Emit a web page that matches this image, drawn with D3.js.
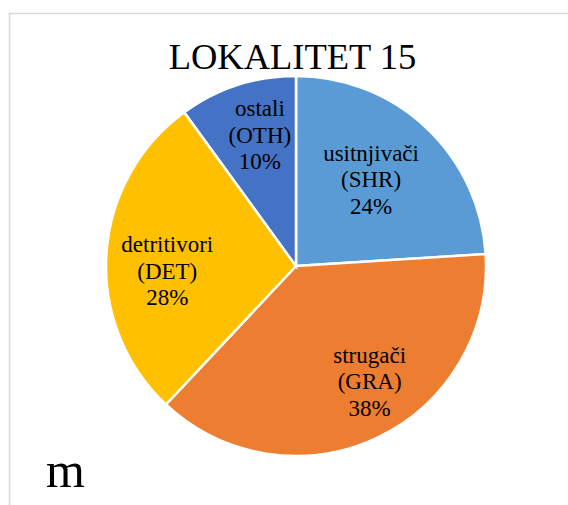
<!DOCTYPE html>
<html>
<head>
<meta charset="utf-8">
<script src="https://cdn.jsdelivr.net/npm/d3@7"></script>
<style>
  body { margin: 0; background: #fff; }
</style>
</head>
<body>
<script>
// data
const names = ['usitnjivači', 'strugači', 'detritivori', 'ostali'];
const codes = ['SHR', 'GRA', 'DET', 'OTH'];
const shares = [24, 38, 28, 10];
const colours = ['#5B9BD5', '#ED7D31', '#FFC000', '#4472C4'];

const width = 568;
const height = 505;
const cx = 296, cy = 266, radius = 190;
const serif = "'Times New Roman', 'Liberation Serif', Times, 'DejaVu Serif', serif";

const data = codes.map((c, i) => ({code: c, name: names[i], value: shares[i], colour: colours[i]}));

//svg
const svg = d3.select('body').append('svg').attr('width', width).attr('height', height)
  .style('font-family', serif);

// chart frame (only top and left edge are visible)
svg.append('rect')
  .attr('x', 9.5).attr('y', 13.5)
  .attr('width', 700).attr('height', 700)
  .attr('fill', 'none')
  .attr('stroke', '#d9d9d9')
  .attr('stroke-width', 1.5);

svg.append('text')
  .attr('x', 292.5).attr('y', 69)
  .attr('text-anchor', 'middle')
  .attr('font-family', serif)
  .attr('font-size', 36.5)
  .text('LOKALITET 15');

const pie = d3.pie().value(d => d.value).sort(null);
const arc = d3.arc().innerRadius(0).outerRadius(radius);
const labelArc = d3.arc().innerRadius(133).outerRadius(133);

const grp = svg.append('g').attr('transform', `translate(${cx}, ${cy})`);
const arcs = pie(data);

grp.selectAll('path')
  .data(arcs)
  .join('path')
  .attr('d', arc)
  .attr('fill', d => d.data.colour)
  .attr('stroke', '#fff')
  .attr('stroke-width', 2.5);

// small best-fit nudges for the data labels
const nudge = {SHR: [-16, 11], GRA: [17, -4], DET: [4, 14], OTH: [5, -4]};

const labels = grp.selectAll('text.lbl')
  .data(arcs)
  .join('text')
  .attr('class', 'lbl')
  .attr('text-anchor', 'middle')
  .attr('font-family', serif)
  .attr('font-size', 23)
  .attr('transform', d => {
    const [x, y] = labelArc.centroid(d);
    const n = nudge[d.data.code];
    return `translate(${x + n[0]}, ${y + n[1] + 7})`;
  });

labels.each(function(d) {
  const t = d3.select(this);
  const lines = [d.data.name, '(' + d.data.code + ')', d.data.value + '%'];
  lines.forEach((l, i) => {
    t.append('tspan').attr('x', 0).attr('y', (i - 1) * 26.5).text(l);
  });
});

svg.append('text')
  .attr('x', 46).attr('y', 487)
  .attr('font-family', serif)
  .attr('font-size', 50)
  .text('m');
</script>
</body>
</html>
